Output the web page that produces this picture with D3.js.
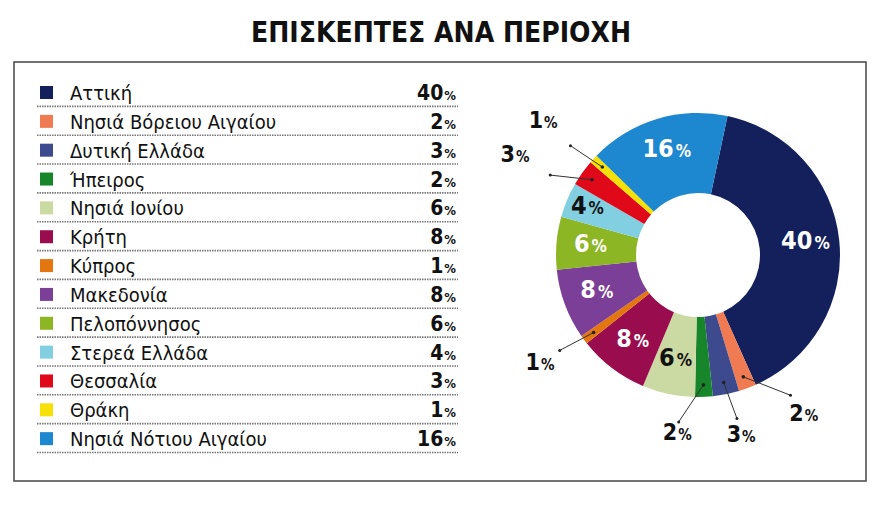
<!DOCTYPE html>
<html>
<head>
<meta charset="utf-8">
<script src="https://cdn.jsdelivr.net/npm/d3@7"></script>
<style>
  body { margin: 0; background: #fff; }
  svg text { font-family: "Liberation Sans Narrow", "DejaVu Sans Condensed", "Roboto Condensed", Roboto, sans-serif; }
</style>
</head>
<body>
<svg id="chart" width="882" height="532"></svg>
<script>
// data
var regions = ['Αττική', 'Νησιά Βόρειου Αιγαίου', 'Δυτική Ελλάδα', 'Ήπειρος', 'Νησιά Ιονίου',
  'Κρήτη', 'Κύπρος', 'Μακεδονία', 'Πελοπόννησος', 'Στερεά Ελλάδα', 'Θεσσαλία', 'Θράκη',
  'Νησιά Νότιου Αιγαίου']
var shares = [40, 2, 3, 2, 6, 8, 1, 8, 6, 4, 3, 1, 16]
var colors = ['#13205c', '#f07a52', '#3e4a8e', '#17862a', '#cbd9a3', '#990d4f', '#e4760f',
  '#7b3f97', '#8db624', '#82cfe2', '#e0091a', '#f6e106', '#1d87cf']
var title = 'ΕΠΙΣΚΕΠΤΕΣ ΑΝΑ ΠΕΡΙΟΧΗ'

// small slices get a callout: angle nudge (deg) and label radius
var callout = {
  1: { nudge: -13, r: 192 },
  2: { nudge: -2, r: 186 },
  3: { nudge: 9, r: 180 },
  6: { nudge: 2, r: 192 },
  10: { nudge: -7, r: 208 },
  11: { nudge: -2, r: 204 }
}

var svg = d3.select('#chart')

svg.append('text')
  .attr('x', 441).attr('y', 42)
  .attr('text-anchor', 'middle')
  .attr('font-size', 28).attr('font-weight', 'bold')
  .attr('fill', '#111')
  .text(title)

svg.append('rect')
  .attr('x', 14).attr('y', 62)
  .attr('width', 852).attr('height', 419)
  .attr('fill', 'none').attr('stroke', '#444').attr('stroke-width', 1.5)

// legend
var rowY = d3.scaleBand().domain(d3.range(regions.length)).range([78, 453]).paddingInner(0)

var rows = svg.append('g').selectAll('g').data(regions).enter().append('g')
  .attr('transform', function(d, i) { return 'translate(0,' + rowY(i) + ')' })

rows.append('rect')
  .attr('x', 40).attr('y', 8).attr('width', 13).attr('height', 13)
  .attr('fill', function(d, i) { return colors[i] })

rows.append('text')
  .attr('x', 70).attr('y', 22)
  .attr('font-size', 20).attr('fill', '#111')
  .text(function(d) { return d })

var pct = rows.append('text')
  .attr('x', 456).attr('y', 22)
  .attr('text-anchor', 'end')
  .attr('font-weight', 'bold').attr('fill', '#111')
pct.append('tspan').attr('font-size', 21).text(function(d, i) { return shares[i] })
pct.append('tspan').attr('font-size', 13).attr('dx', 1).text('%')

rows.append('line')
  .attr('x1', 37).attr('x2', 458)
  .attr('y1', rowY.bandwidth() - 0.5).attr('y2', rowY.bandwidth() - 0.5)
  .attr('stroke', '#777').attr('stroke-width', 1.6)
  .attr('stroke-dasharray', '1.5,1')

// donut
var cx = 698, cy = 255, rOut = 142, rIn = 62
var start = 12 * Math.PI / 180
var pie = d3.pie().sort(null).value(function(d) { return d })
  .startAngle(start).endAngle(start + 2 * Math.PI)
var arcs = pie(shares)
var arc = d3.arc().innerRadius(rIn).outerRadius(rOut)

var g = svg.append('g').attr('transform', 'translate(' + cx + ',' + cy + ')')

g.selectAll('path').data(arcs).enter().append('path')
  .attr('d', arc)
  .attr('fill', function(d, i) { return colors[i] })

function polar(a, r) { return [r * Math.sin(a), -r * Math.cos(a)] }
function mid(d) { return (d.startAngle + d.endAngle) / 2 }
function bent(d) { return mid(d) + callout[d.index].nudge * Math.PI / 180 }

var inner = arcs.filter(function(d, i) { return callout[i] === undefined })
var innerLab = g.selectAll('text.in').data(inner).enter().append('text')
  .attr('class', 'in')
  .attr('transform', function(d) {
    var r = d.value <= 4 ? 120 : 108
    var p = polar(mid(d), r)
    return 'translate(' + p[0] + ',' + p[1] + ')'
  })
  .attr('text-anchor', 'middle').attr('dy', '0.36em')
  .attr('font-weight', 'bold')
  .attr('fill', function(d) { return d3.lab(colors[d.index]).l > 72 ? '#111' : '#fff' })
innerLab.append('tspan').attr('font-size', 25).text(function(d) { return d.value })
innerLab.append('tspan').attr('font-size', 17).attr('dx', 2).text('%')

var outer = arcs.filter(function(d, i) { return callout[i] !== undefined })
var co = g.selectAll('g.co').data(outer).enter().append('g').attr('class', 'co')

co.append('line')
  .attr('x1', function(d) { return polar(mid(d), 130)[0] })
  .attr('y1', function(d) { return polar(mid(d), 130)[1] })
  .attr('x2', function(d) { return polar(bent(d), 168)[0] })
  .attr('y2', function(d) { return polar(bent(d), 168)[1] })
  .attr('stroke', '#333').attr('stroke-width', 1)

co.append('circle')
  .attr('cx', function(d) { return polar(mid(d), 130)[0] })
  .attr('cy', function(d) { return polar(mid(d), 130)[1] })
  .attr('r', 1.8).attr('fill', '#222')
co.append('circle')
  .attr('cx', function(d) { return polar(bent(d), 168)[0] })
  .attr('cy', function(d) { return polar(bent(d), 168)[1] })
  .attr('r', 1.5).attr('fill', '#222')

var outLab = co.append('text')
  .attr('transform', function(d) {
    var p = polar(bent(d), callout[d.index].r)
    return 'translate(' + p[0] + ',' + p[1] + ')'
  })
  .attr('text-anchor', 'middle').attr('dy', '0.36em')
  .attr('font-weight', 'bold').attr('fill', '#111')
outLab.append('tspan').attr('font-size', 23).text(function(d) { return d.value })
outLab.append('tspan').attr('font-size', 15).attr('dx', 1).text('%')
</script>
</body>
</html>
